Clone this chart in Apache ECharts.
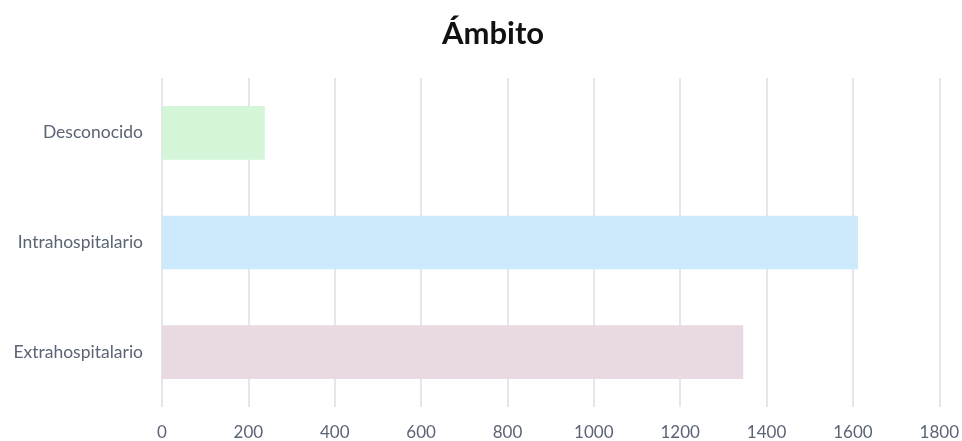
<!DOCTYPE html>
<html>
<head>
<meta charset="utf-8">
<script src="https://cdn.jsdelivr.net/npm/echarts@6/dist/echarts.min.js"></script>
<style>
  html, body { margin: 0; padding: 0; background: #fff; }
  #chart { width: 962px; height: 441px; }
</style>
</head>
<body>
<div id="chart"></div>
<script>
// data
const categories = ['Extrahospitalario', 'Intrahospitalario', 'Desconocido']
const values = [1346, 1612, 238]
const barColors = ['#e8d9e2', '#cdeafd', '#d5f5d8']

let myChart = echarts.init(document.getElementById('chart'))
myChart.setOption({
  title: {
    text: 'Ámbito',
    left: 437,
    top: 13,
    textStyle: {
      fontFamily: 'Lato',
      fontSize: 31,
      fontWeight: 'bold',
      color: '#111'
    }
  },
  grid: {
    left: 162,
    right: 22,
    top: 78,
    bottom: 33,
    containLabel: false
  },
  xAxis: {
    type: 'value',
    min: 0,
    max: 1800,
    interval: 200,
    axisLine: { show: false },
    axisTick: { show: false },
    splitLine: { lineStyle: { color: '#dddee4', width: 1.5 } },
    axisLabel: {
      margin: 17,
      fontFamily: 'Lato',
      fontSize: 17,
      color: '#5b6475',
      formatter: v => String(v)
    }
  },
  yAxis: {
    type: 'category',
    data: categories,
    axisLine: { show: false },
    axisTick: { show: false },
    axisLabel: {
      margin: 19,
      fontFamily: 'Lato',
      fontSize: 17.5,
      color: '#5b6475'
    }
  },
  series: [
    {
      type: 'bar',
      data: values.map((v, i) => ({ value: v, itemStyle: { color: barColors[i] } })),
      barCategoryGap: '51%',
      silent: true
    }
  ]
})
</script>
</body>
</html>
